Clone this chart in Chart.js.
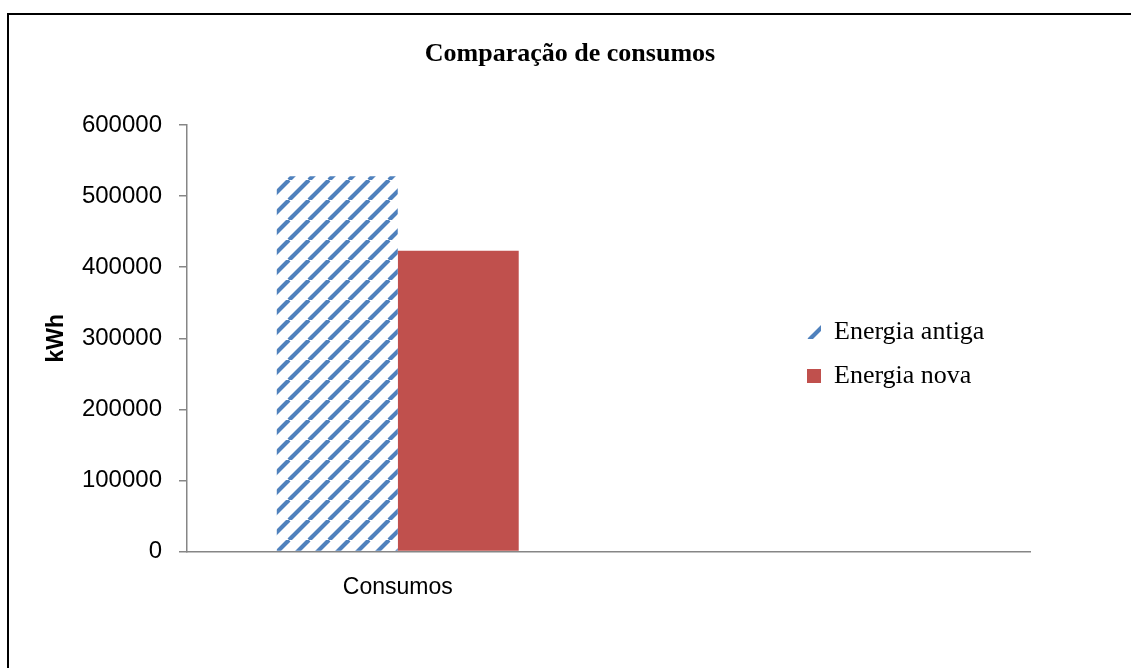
<!DOCTYPE html>
<html><head><meta charset="utf-8">
<script src="https://cdn.jsdelivr.net/npm/chart.js@4/dist/chart.umd.min.js"></script>
<style>
html,body{margin:0;padding:0;background:#fff;overflow:hidden;width:1131px;height:668px}
#wrap{position:relative;width:1131px;height:668px}
#frame{position:absolute;left:7px;top:13px;width:1200px;height:700px;border:2px solid #000;box-sizing:border-box;pointer-events:none}
canvas{position:absolute;left:0;top:0}
</style></head><body>
<div id="wrap"><canvas id="c" width="1131" height="668"></canvas><div id="frame"></div></div>
<script>
const chartTitle = 'Comparação de consumos';
const categories = ['Consumos', ''];
const seriesNames = ['Energia antiga', 'Energia nova'];
const energiaAntiga = [528000, null];
const energiaNova = [423000, null];
const yTicks = [0, 100000, 200000, 300000, 400000, 500000, 600000];
const yAxisTitle = 'kWh';

const canvas = document.getElementById('c');
const ctx = canvas.getContext('2d');

function makeHatch() {
  const s = 20;
  const c = document.createElement('canvas');
  c.width = s; c.height = s;
  const g = c.getContext('2d');
  g.fillStyle = '#ffffff'; g.fillRect(0, 0, s, s);
  g.strokeStyle = '#4F81BD'; g.lineWidth = 4.2;
  g.beginPath();
  for (const o of [-s, 0, s]) { g.moveTo(o, s); g.lineTo(o + s, 0); }
  g.stroke();
  const p = ctx.createPattern(c, 'repeat');
  if (p.setTransform && window.DOMMatrix) p.setTransform(new DOMMatrix().translate(9, 0));
  return p;
}
const hatch = makeHatch();

const moveLegend = {
  id: 'moveLegend',
  beforeDraw(chart) {
    const l = chart.legend;
    const w = l.width;
    l.left = 789; l.right = 789 + w;
    l.top = 301; l.bottom = 301 + 300;
  }
};

Chart.defaults.font.family = 'Liberation Sans';
Chart.defaults.color = '#000';

new Chart(canvas, {
  type: 'bar',
  data: {
    labels: categories,
    datasets: [
      { label: seriesNames[0], data: energiaAntiga, backgroundColor: hatch, borderWidth: 0 },
      { label: seriesNames[1], data: energiaNova, backgroundColor: '#C0504D', borderWidth: 0 }
    ]
  },
  options: {
    responsive: false,
    animation: false,
    events: [],
    layout: { padding: { left: 9, top: 0, right: 0, bottom: 0 } },
    datasets: { bar: { categoryPercentage: 0.574, barPercentage: 1 } },
    plugins: {
      title: {
        display: true, text: chartTitle, color: '#000',
        font: { family: 'Liberation Serif', size: 26, weight: 'bold' },
        padding: { top: 39, bottom: 54.8 }
      },
      legend: {
        display: true, position: 'chartArea', align: 'start',
        labels: {
          font: { family: 'Liberation Serif', size: 26 }, color: '#000',
          boxWidth: 14, boxHeight: 14, padding: 18
        }
      },
      tooltip: { enabled: false }
    },
    scales: {
      x: {
        grid: { display: false, drawTicks: false },
        border: { display: true, color: '#868686', width: 1.5 },
        ticks: { font: { size: 23 }, color: '#000', padding: 22 },
        afterFit(s) { s.height = 116.5; }
      },
      y: {
        min: 0, max: 600000,
        afterBuildTicks(s) { s.ticks = yTicks.map(v => ({ value: v })); },
        grid: { drawOnChartArea: false, drawTicks: true, tickLength: 8, color: '#868686', lineWidth: 1.5 },
        border: { display: true, color: '#868686', width: 1.5 },
        ticks: { font: { size: 24 }, color: '#000', padding: 17, callback: v => String(v) },
        title: { display: true, text: yAxisTitle, color: '#000', font: { size: 23, weight: 'bold' }, padding: { top: 34, bottom: 0 } },
        afterFit(s) { s.width = 178; }
      },
      yRight: {
        position: 'right', min: 0, max: 600000,
        grid: { display: false, drawTicks: false },
        border: { display: false },
        ticks: { display: false },
        afterFit(s) { s.width = 101; }
      }
    }
  },
  plugins: [moveLegend]
});
</script>
</body></html>
